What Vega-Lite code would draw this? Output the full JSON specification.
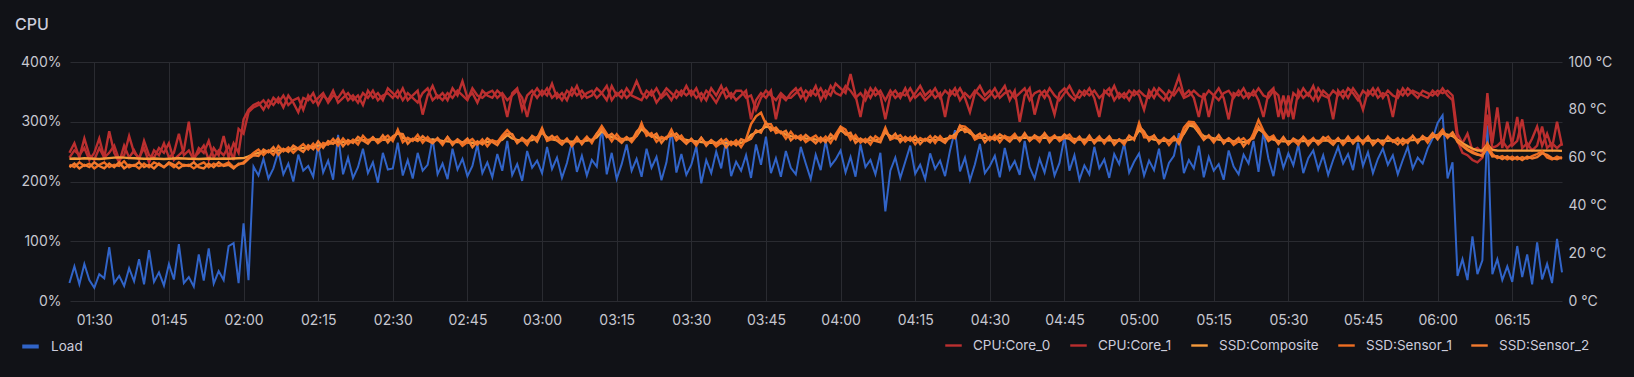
{
"$schema": "https://vega.github.io/schema/vega-lite/v6.json",
"width": 1492, "height": 239,
"autosize": {"type": "none"},
"padding": {"left": 70, "top": 62, "right": 72, "bottom": 76},
"background": "#111217",
"title": {"text": "CPU", "anchor": "start", "dx": -5, "offset": 22, "fontSize": 16, "fontWeight": 500, "font": "Inter", "color": "#CCCCDC"},
"data": {"values": [
{"t":"2024-01-01T01:25","L":30,"a":62,"b":60,"c":59.5,"s":57,"u":56},
{"t":"2024-01-01T01:26","L":58,"a":66,"b":63,"c":59.6,"s":56,"u":57.5},
{"t":"2024-01-01T01:27","L":28,"a":60,"b":61,"c":59.5,"s":58,"u":55.5},
{"t":"2024-01-01T01:28","L":62,"a":68,"b":64,"c":59.7,"s":56.5,"u":57},
{"t":"2024-01-01T01:29","L":35,"a":61,"b":59,"c":59.6,"s":57.5,"u":56},
{"t":"2024-01-01T01:30","L":22,"a":59,"b":62,"c":59.5,"s":55.5,"u":58},
{"t":"2024-01-01T01:31","L":45,"a":64,"b":68,"c":59.4,"s":57,"u":56.5},
{"t":"2024-01-01T01:32","L":38,"a":60,"b":60,"c":59.6,"s":58,"u":55.5},
{"t":"2024-01-01T01:33","L":90,"a":71,"b":62,"c":59.8,"s":56,"u":57.5},
{"t":"2024-01-01T01:34","L":30,"a":62,"b":65,"c":60.0,"s":57,"u":56},
{"t":"2024-01-01T01:35","L":42,"a":58,"b":59,"c":60.1,"s":56.5,"u":58},
{"t":"2024-01-01T01:36","L":25,"a":65,"b":61,"c":60.0,"s":58.5,"u":55.5},
{"t":"2024-01-01T01:37","L":55,"a":60,"b":69,"c":59.8,"s":56,"u":57},
{"t":"2024-01-01T01:38","L":33,"a":63,"b":62,"c":59.7,"s":57,"u":56.5},
{"t":"2024-01-01T01:39","L":70,"a":59,"b":60,"c":59.6,"s":55.5,"u":58},
{"t":"2024-01-01T01:40","L":28,"a":67,"b":64,"c":59.5,"s":57.5,"u":56},
{"t":"2024-01-01T01:41","L":85,"a":61,"b":58,"c":59.5,"s":56,"u":57},
{"t":"2024-01-01T01:42","L":32,"a":60,"b":63,"c":59.6,"s":58,"u":55.5},
{"t":"2024-01-01T01:43","L":48,"a":64,"b":61,"c":59.5,"s":57,"u":57.5},
{"t":"2024-01-01T01:44","L":26,"a":62,"b":66,"c":59.4,"s":56,"u":56},
{"t":"2024-01-01T01:45","L":62,"a":66,"b":60,"c":59.5,"s":57.5,"u":58},
{"t":"2024-01-01T01:46","L":36,"a":59,"b":62,"c":59.6,"s":56,"u":57},
{"t":"2024-01-01T01:47","L":95,"a":61,"b":70,"c":59.7,"s":58,"u":55.5},
{"t":"2024-01-01T01:48","L":30,"a":63,"b":61,"c":59.6,"s":56.5,"u":57},
{"t":"2024-01-01T01:49","L":40,"a":75,"b":63,"c":59.5,"s":57,"u":56.5},
{"t":"2024-01-01T01:50","L":24,"a":60,"b":59,"c":59.5,"s":55.5,"u":58},
{"t":"2024-01-01T01:51","L":78,"a":62,"b":64,"c":59.4,"s":57,"u":56},
{"t":"2024-01-01T01:52","L":34,"a":65,"b":62,"c":59.5,"s":58,"u":55.5},
{"t":"2024-01-01T01:53","L":88,"a":59,"b":67,"c":59.6,"s":56,"u":57.5},
{"t":"2024-01-01T01:54","L":29,"a":64,"b":60,"c":59.5,"s":57.5,"u":56},
{"t":"2024-01-01T01:55","L":50,"a":61,"b":63,"c":59.5,"s":56.5,"u":58},
{"t":"2024-01-01T01:56","L":35,"a":69,"b":61,"c":59.6,"s":57,"u":56.5},
{"t":"2024-01-01T01:57","L":92,"a":60,"b":65,"c":59.5,"s":58,"u":57},
{"t":"2024-01-01T01:58","L":97,"a":66,"b":59,"c":59.6,"s":56,"u":55.5},
{"t":"2024-01-01T01:59","L":30,"a":62,"b":72,"c":59.7,"s":57,"u":57.5},
{"t":"2024-01-01T02:00","L":130,"a":76,"b":70,"c":59.8,"s":58,"u":57.5},
{"t":"2024-01-01T02:01","L":35,"a":80,"b":79,"c":60.5,"s":60,"u":59.5},
{"t":"2024-01-01T02:02","L":225,"a":82,"b":81,"c":61.5,"s":62,"u":61},
{"t":"2024-01-01T02:03","L":210,"a":83,"b":82,"c":62.0,"s":63.4,"u":60.7},
{"t":"2024-01-01T02:04","L":238,"a":80,"b":84,"c":62.3,"s":61.1,"u":63.4},
{"t":"2024-01-01T02:05","L":205,"a":84,"b":81,"c":62.5,"s":63.0,"u":62.2},
{"t":"2024-01-01T02:06","L":222,"a":82,"b":85,"c":62.8,"s":61.1,"u":64.4},
{"t":"2024-01-01T02:07","L":250,"a":85,"b":83,"c":63.0,"s":64.8,"u":61.2},
{"t":"2024-01-01T02:08","L":212,"a":81,"b":86,"c":63.2,"s":62.6,"u":63.7},
{"t":"2024-01-01T02:09","L":230,"a":86,"b":82,"c":63.3,"s":64.3,"u":62.4},
{"t":"2024-01-01T02:10","L":200,"a":83,"b":84,"c":63.5,"s":62.0,"u":65.0},
{"t":"2024-01-01T02:11","L":245,"a":79,"b":85,"c":63.8,"s":64.0,"u":63.7},
{"t":"2024-01-01T02:12","L":218,"a":85,"b":80,"c":64.0,"s":65.6,"u":62.4},
{"t":"2024-01-01T02:13","L":226,"a":84,"b":86,"c":64.3,"s":63.4,"u":65.2},
{"t":"2024-01-01T02:14","L":208,"a":87,"b":83,"c":64.6,"s":65.8,"u":63.5},
{"t":"2024-01-01T02:15","L":262,"a":82,"b":85,"c":65.0,"s":63.2,"u":66.8},
{"t":"2024-01-01T02:16","L":215,"a":86,"b":87,"c":65.4,"s":66.1,"u":64.1},
{"t":"2024-01-01T02:17","L":235,"a":84,"b":83,"c":65.8,"s":65.4,"u":66.9},
{"t":"2024-01-01T02:18","L":203,"a":88,"b":86,"c":66.1,"s":67.8,"u":65.8},
{"t":"2024-01-01T02:19","L":278,"a":83,"b":85,"c":66.4,"s":65.1,"u":68.0},
{"t":"2024-01-01T02:20","L":212,"a":85,"b":88,"c":66.6,"s":68.0,"u":64.8},
{"t":"2024-01-01T02:21","L":240,"a":87,"b":84,"c":66.8,"s":65.6,"u":67.3},
{"t":"2024-01-01T02:22","L":206,"a":84,"b":86,"c":67.0,"s":67.5,"u":66.1},
{"t":"2024-01-01T02:23","L":224,"a":86,"b":83,"c":67.2,"s":65.5,"u":68.7},
{"t":"2024-01-01T02:24","L":255,"a":82,"b":87,"c":67.3,"s":69.1,"u":67.2},
{"t":"2024-01-01T02:25","L":214,"a":88,"b":85,"c":67.4,"s":66.8,"u":65.8},
{"t":"2024-01-01T02:26","L":232,"a":85,"b":88,"c":67.5,"s":68.5,"u":68.4},
{"t":"2024-01-01T02:27","L":198,"a":87,"b":84,"c":67.6,"s":66.1,"u":66.5},
{"t":"2024-01-01T02:28","L":248,"a":84,"b":86,"c":67.5,"s":67.7,"u":69.3},
{"t":"2024-01-01T02:29","L":220,"a":89,"b":87,"c":67.6,"s":69.2,"u":66.3},
{"t":"2024-01-01T02:30","L":222,"a":87,"b":85,"c":67.8,"s":66.9,"u":68.9},
{"t":"2024-01-01T02:31","L":265,"a":85,"b":88,"c":70.5,"s":71.7,"u":70.2},
{"t":"2024-01-01T02:32","L":210,"a":89,"b":84,"c":68.2,"s":66.4,"u":69.8},
{"t":"2024-01-01T02:33","L":236,"a":84,"b":87,"c":67.6,"s":68.3,"u":65.8},
{"t":"2024-01-01T02:34","L":205,"a":86,"b":85,"c":67.4,"s":67.0,"u":67.9},
{"t":"2024-01-01T02:35","L":248,"a":88,"b":83,"c":67.8,"s":69.5,"u":66.9},
{"t":"2024-01-01T02:36","L":218,"a":78,"b":87,"c":67.5,"s":66.2,"u":69.0},
{"t":"2024-01-01T02:37","L":228,"a":86,"b":89,"c":67.2,"s":68.6,"u":67.1},
{"t":"2024-01-01T02:38","L":272,"a":90,"b":84,"c":67.6,"s":66.4,"u":66.0},
{"t":"2024-01-01T02:39","L":212,"a":85,"b":86,"c":67.3,"s":67.8,"u":68.2},
{"t":"2024-01-01T02:40","L":230,"a":87,"b":84,"c":67.0,"s":65.3,"u":65.9},
{"t":"2024-01-01T02:41","L":204,"a":84,"b":87,"c":66.8,"s":68.6,"u":68.6},
{"t":"2024-01-01T02:42","L":255,"a":89,"b":85,"c":66.6,"s":66.0,"u":65.3},
{"t":"2024-01-01T02:43","L":220,"a":86,"b":88,"c":66.5,"s":67.5,"u":67.6},
{"t":"2024-01-01T02:44","L":238,"a":92,"b":86,"c":66.4,"s":64.9,"u":66.1},
{"t":"2024-01-01T02:45","L":209,"a":85,"b":84,"c":66.3,"s":66.5,"u":67.9},
{"t":"2024-01-01T02:46","L":226,"a":87,"b":89,"c":66.2,"s":67.8,"u":64.4},
{"t":"2024-01-01T02:47","L":262,"a":83,"b":86,"c":66.3,"s":65.4,"u":66.8},
{"t":"2024-01-01T02:48","L":214,"a":88,"b":85,"c":66.4,"s":67.6,"u":65.5},
{"t":"2024-01-01T02:49","L":232,"a":86,"b":87,"c":66.5,"s":64.7,"u":68.0},
{"t":"2024-01-01T02:50","L":207,"a":85,"b":88,"c":66.6,"s":67.3,"u":66.5},
{"t":"2024-01-01T02:51","L":246,"a":88,"b":85,"c":66.8,"s":66.4,"u":65.2},
{"t":"2024-01-01T02:52","L":218,"a":86,"b":87,"c":67.5,"s":69.2,"u":68.4},
{"t":"2024-01-01T02:53","L":268,"a":77,"b":84,"c":69.5,"s":71.5,"u":70.0},
{"t":"2024-01-01T02:54","L":211,"a":87,"b":86,"c":68.0,"s":69.4,"u":69.8},
{"t":"2024-01-01T02:55","L":229,"a":89,"b":88,"c":67.4,"s":66.2,"u":66.1},
{"t":"2024-01-01T02:56","L":201,"a":80,"b":85,"c":67.2,"s":67.7,"u":68.3},
{"t":"2024-01-01T02:57","L":251,"a":86,"b":77,"c":67.0,"s":65.3,"u":66.7},
{"t":"2024-01-01T02:58","L":223,"a":88,"b":86,"c":67.3,"s":69.1,"u":68.9},
{"t":"2024-01-01T02:59","L":235,"a":85,"b":89,"c":68.5,"s":67.9,"u":66.7},
{"t":"2024-01-01T03:00","L":214,"a":88,"b":86,"c":70.5,"s":72.4,"u":71.0},
{"t":"2024-01-01T03:01","L":258,"a":86,"b":89,"c":68.5,"s":67.0,"u":67.6},
{"t":"2024-01-01T03:02","L":221,"a":91,"b":85,"c":67.6,"s":67.8,"u":69.1},
{"t":"2024-01-01T03:03","L":240,"a":85,"b":87,"c":67.2,"s":68.8,"u":67.1},
{"t":"2024-01-01T03:04","L":206,"a":87,"b":84,"c":67.0,"s":66.1,"u":65.4},
{"t":"2024-01-01T03:05","L":231,"a":84,"b":88,"c":66.8,"s":68.0,"u":67.7},
{"t":"2024-01-01T03:06","L":266,"a":89,"b":86,"c":66.7,"s":64.9,"u":65.6},
{"t":"2024-01-01T03:07","L":216,"a":86,"b":90,"c":66.8,"s":67.5,"u":68.6},
{"t":"2024-01-01T03:08","L":243,"a":88,"b":85,"c":66.9,"s":66.5,"u":65.6},
{"t":"2024-01-01T03:09","L":210,"a":85,"b":87,"c":67.1,"s":68.8,"u":68.2},
{"t":"2024-01-01T03:10","L":236,"a":86,"b":88,"c":67.4,"s":66.1,"u":67.1},
{"t":"2024-01-01T03:11","L":225,"a":89,"b":85,"c":68.5,"s":69.9,"u":70.1},
{"t":"2024-01-01T03:12","L":292,"a":87,"b":87,"c":71.0,"s":73.2,"u":72.0},
{"t":"2024-01-01T03:13","L":212,"a":84,"b":90,"c":69.5,"s":70.0,"u":68.6},
{"t":"2024-01-01T03:14","L":248,"a":90,"b":84,"c":68.5,"s":66.8,"u":70.0},
{"t":"2024-01-01T03:15","L":204,"a":86,"b":87,"c":68.0,"s":69.8,"u":67.9},
{"t":"2024-01-01T03:16","L":229,"a":88,"b":85,"c":67.8,"s":67.2,"u":66.2},
{"t":"2024-01-01T03:17","L":262,"a":85,"b":89,"c":67.6,"s":68.6,"u":68.5},
{"t":"2024-01-01T03:18","L":218,"a":87,"b":86,"c":68.0,"s":66.5,"u":66.9},
{"t":"2024-01-01T03:19","L":238,"a":92,"b":85,"c":69.0,"s":69.2,"u":70.8},
{"t":"2024-01-01T03:20","L":208,"a":87,"b":84,"c":72.0,"s":74.5,"u":73.0},
{"t":"2024-01-01T03:21","L":255,"a":85,"b":88,"c":70.0,"s":69.1,"u":71.1},
{"t":"2024-01-01T03:22","L":223,"a":88,"b":86,"c":69.0,"s":70.2,"u":68.7},
{"t":"2024-01-01T03:23","L":241,"a":83,"b":89,"c":68.4,"s":66.6,"u":70.0},
{"t":"2024-01-01T03:24","L":202,"a":86,"b":85,"c":68.0,"s":68.7,"u":66.2},
{"t":"2024-01-01T03:25","L":232,"a":89,"b":87,"c":68.2,"s":67.8,"u":68.7},
{"t":"2024-01-01T03:26","L":286,"a":87,"b":84,"c":70.0,"s":71.7,"u":69.1},
{"t":"2024-01-01T03:27","L":215,"a":85,"b":88,"c":68.6,"s":67.3,"u":70.1},
{"t":"2024-01-01T03:28","L":246,"a":88,"b":86,"c":67.8,"s":69.2,"u":67.7},
{"t":"2024-01-01T03:29","L":211,"a":86,"b":90,"c":67.4,"s":66.2,"u":65.8},
{"t":"2024-01-01T03:30","L":228,"a":88,"b":86,"c":67.0,"s":67.5,"u":67.9},
{"t":"2024-01-01T03:31","L":259,"a":85,"b":89,"c":66.8,"s":65.1,"u":65.7},
{"t":"2024-01-01T03:32","L":197,"a":87,"b":84,"c":66.5,"s":68.3,"u":68.3},
{"t":"2024-01-01T03:33","L":236,"a":84,"b":88,"c":66.3,"s":65.7,"u":65.0},
{"t":"2024-01-01T03:34","L":214,"a":89,"b":86,"c":66.2,"s":67.2,"u":67.3},
{"t":"2024-01-01T03:35","L":250,"a":86,"b":83,"c":66.1,"s":64.6,"u":65.8},
{"t":"2024-01-01T03:36","L":222,"a":90,"b":87,"c":66.0,"s":66.2,"u":67.6},
{"t":"2024-01-01T03:37","L":270,"a":85,"b":89,"c":66.1,"s":67.7,"u":64.3},
{"t":"2024-01-01T03:38","L":209,"a":87,"b":85,"c":66.2,"s":65.3,"u":66.7},
{"t":"2024-01-01T03:39","L":233,"a":84,"b":88,"c":66.0,"s":67.2,"u":65.1},
{"t":"2024-01-01T03:40","L":218,"a":86,"b":88,"c":66.2,"s":64.4,"u":67.7},
{"t":"2024-01-01T03:41","L":244,"a":88,"b":85,"c":67.0,"s":67.7,"u":66.9},
{"t":"2024-01-01T03:42","L":206,"a":76,"b":86,"c":69.5,"s":74.0,"u":67.9},
{"t":"2024-01-01T03:43","L":262,"a":84,"b":80,"c":70.5,"s":77.3,"u":71.4},
{"t":"2024-01-01T03:44","L":228,"a":87,"b":85,"c":71.5,"s":78.8,"u":70.4},
{"t":"2024-01-01T03:45","L":275,"a":85,"b":88,"c":73.0,"s":74.0,"u":74.8},
{"t":"2024-01-01T03:46","L":214,"a":88,"b":86,"c":72.6,"s":74.0,"u":71.3},
{"t":"2024-01-01T03:47","L":239,"a":76,"b":84,"c":71.5,"s":70.3,"u":72.6},
{"t":"2024-01-01T03:48","L":208,"a":86,"b":87,"c":70.5,"s":71.0,"u":70.2},
{"t":"2024-01-01T03:49","L":251,"a":84,"b":85,"c":69.6,"s":67.9,"u":71.2},
{"t":"2024-01-01T03:50","L":223,"a":87,"b":85,"c":69.0,"s":70.8,"u":67.2},
{"t":"2024-01-01T03:51","L":212,"a":89,"b":87,"c":68.6,"s":68.0,"u":69.1},
{"t":"2024-01-01T03:52","L":258,"a":85,"b":89,"c":68.3,"s":69.3,"u":67.4},
{"t":"2024-01-01T03:53","L":230,"a":88,"b":84,"c":68.0,"s":66.5,"u":69.5},
{"t":"2024-01-01T03:54","L":204,"a":86,"b":88,"c":67.8,"s":68.0,"u":67.7},
{"t":"2024-01-01T03:55","L":245,"a":90,"b":86,"c":67.6,"s":69.2,"u":66.0},
{"t":"2024-01-01T03:56","L":219,"a":84,"b":89,"c":67.5,"s":66.6,"u":68.4},
{"t":"2024-01-01T03:57","L":268,"a":88,"b":85,"c":67.6,"s":68.8,"u":66.5},
{"t":"2024-01-01T03:58","L":226,"a":86,"b":90,"c":68.0,"s":66.2,"u":69.8},
{"t":"2024-01-01T03:59","L":237,"a":91,"b":87,"c":69.0,"s":69.7,"u":67.7},
{"t":"2024-01-01T04:00","L":252,"a":89,"b":86,"c":71.5,"s":73.0,"u":72.6},
{"t":"2024-01-01T04:01","L":215,"a":87,"b":90,"c":70.0,"s":71.7,"u":69.7},
{"t":"2024-01-01T04:02","L":241,"a":95,"b":88,"c":68.8,"s":67.5,"u":70.4},
{"t":"2024-01-01T04:03","L":208,"a":86,"b":85,"c":68.0,"s":69.4,"u":66.2},
{"t":"2024-01-01T04:04","L":262,"a":77,"b":87,"c":67.5,"s":66.3,"u":68.0},
{"t":"2024-01-01T04:05","L":224,"a":88,"b":84,"c":67.3,"s":67.8,"u":66.4},
{"t":"2024-01-01T04:06","L":236,"a":85,"b":89,"c":67.2,"s":65.5,"u":68.7},
{"t":"2024-01-01T04:07","L":212,"a":89,"b":86,"c":67.1,"s":68.9,"u":67.0},
{"t":"2024-01-01T04:08","L":248,"a":86,"b":88,"c":68.0,"s":67.4,"u":66.4},
{"t":"2024-01-01T04:09","L":150,"a":76,"b":84,"c":70.5,"s":72.5,"u":71.4},
{"t":"2024-01-01T04:10","L":218,"a":86,"b":88,"c":69.0,"s":67.5,"u":67.9},
{"t":"2024-01-01T04:11","L":240,"a":88,"b":85,"c":68.2,"s":68.4,"u":70.0},
{"t":"2024-01-01T04:12","L":206,"a":85,"b":87,"c":67.8,"s":69.4,"u":66.5},
{"t":"2024-01-01T04:13","L":233,"a":89,"b":86,"c":67.6,"s":66.7,"u":68.7},
{"t":"2024-01-01T04:14","L":260,"a":84,"b":89,"c":67.4,"s":68.6,"u":67.1},
{"t":"2024-01-01T04:15","L":213,"a":87,"b":85,"c":67.4,"s":65.6,"u":69.0},
{"t":"2024-01-01T04:16","L":228,"a":90,"b":87,"c":67.5,"s":68.2,"u":65.7},
{"t":"2024-01-01T04:17","L":204,"a":86,"b":84,"c":67.4,"s":67.0,"u":67.9},
{"t":"2024-01-01T04:18","L":247,"a":88,"b":86,"c":67.3,"s":69.0,"u":66.4},
{"t":"2024-01-01T04:19","L":221,"a":85,"b":89,"c":67.4,"s":66.1,"u":68.9},
{"t":"2024-01-01T04:20","L":235,"a":87,"b":85,"c":67.6,"s":69.0,"u":67.5},
{"t":"2024-01-01T04:21","L":209,"a":77,"b":88,"c":67.8,"s":66.6,"u":66.2},
{"t":"2024-01-01T04:22","L":252,"a":88,"b":86,"c":68.2,"s":68.7,"u":69.1},
{"t":"2024-01-01T04:23","L":286,"a":86,"b":89,"c":69.8,"s":68.1,"u":68.7},
{"t":"2024-01-01T04:24","L":217,"a":89,"b":84,"c":71.5,"s":73.3,"u":73.3},
{"t":"2024-01-01T04:25","L":240,"a":85,"b":87,"c":72.0,"s":73.0,"u":70.7},
{"t":"2024-01-01T04:26","L":202,"a":79,"b":85,"c":70.2,"s":71.2,"u":71.3},
{"t":"2024-01-01T04:27","L":229,"a":87,"b":88,"c":69.0,"s":67.5,"u":68.7},
{"t":"2024-01-01T04:28","L":263,"a":90,"b":86,"c":68.4,"s":68.6,"u":70.0},
{"t":"2024-01-01T04:29","L":214,"a":86,"b":84,"c":68.2,"s":69.8,"u":66.4},
{"t":"2024-01-01T04:30","L":226,"a":88,"b":86,"c":68.2,"s":67.3,"u":68.7},
{"t":"2024-01-01T04:31","L":243,"a":85,"b":89,"c":68.3,"s":69.5,"u":67.4},
{"t":"2024-01-01T04:32","L":207,"a":87,"b":85,"c":68.2,"s":66.4,"u":69.7},
{"t":"2024-01-01T04:33","L":256,"a":90,"b":87,"c":68.4,"s":69.1,"u":68.3},
{"t":"2024-01-01T04:34","L":220,"a":84,"b":88,"c":68.3,"s":67.9,"u":66.7},
{"t":"2024-01-01T04:35","L":234,"a":88,"b":85,"c":68.2,"s":69.9,"u":69.1},
{"t":"2024-01-01T04:36","L":211,"a":75,"b":87,"c":68.3,"s":67.0,"u":67.2},
{"t":"2024-01-01T04:37","L":268,"a":86,"b":89,"c":68.4,"s":69.8,"u":70.2},
{"t":"2024-01-01T04:38","L":224,"a":89,"b":84,"c":68.3,"s":67.1,"u":67.0},
{"t":"2024-01-01T04:39","L":205,"a":78,"b":87,"c":68.2,"s":68.7,"u":69.3},
{"t":"2024-01-01T04:40","L":238,"a":86,"b":88,"c":68.3,"s":66.6,"u":68.0},
{"t":"2024-01-01T04:41","L":215,"a":88,"b":85,"c":68.4,"s":70.2,"u":70.0},
{"t":"2024-01-01T04:42","L":250,"a":85,"b":89,"c":68.2,"s":67.6,"u":66.4},
{"t":"2024-01-01T04:43","L":210,"a":78,"b":86,"c":68.3,"s":69.3,"u":68.8},
{"t":"2024-01-01T04:44","L":231,"a":87,"b":84,"c":68.4,"s":66.9,"u":67.5},
{"t":"2024-01-01T04:45","L":275,"a":89,"b":87,"c":68.2,"s":68.4,"u":69.7},
{"t":"2024-01-01T04:46","L":218,"a":86,"b":90,"c":68.0,"s":69.6,"u":67.9},
{"t":"2024-01-01T04:47","L":244,"a":84,"b":86,"c":67.8,"s":66.9,"u":66.2},
{"t":"2024-01-01T04:48","L":203,"a":88,"b":85,"c":67.6,"s":68.8,"u":68.5},
{"t":"2024-01-01T04:49","L":227,"a":86,"b":88,"c":67.5,"s":65.7,"u":66.4},
{"t":"2024-01-01T04:50","L":212,"a":89,"b":86,"c":67.4,"s":68.1,"u":69.2},
{"t":"2024-01-01T04:51","L":258,"a":85,"b":88,"c":67.3,"s":66.9,"u":66.0},
{"t":"2024-01-01T04:52","L":222,"a":77,"b":85,"c":67.2,"s":68.9,"u":68.3},
{"t":"2024-01-01T04:53","L":237,"a":88,"b":87,"c":67.2,"s":65.9,"u":66.9},
{"t":"2024-01-01T04:54","L":206,"a":86,"b":89,"c":67.3,"s":68.7,"u":68.9},
{"t":"2024-01-01T04:55","L":246,"a":90,"b":84,"c":67.2,"s":66.0,"u":65.4},
{"t":"2024-01-01T04:56","L":229,"a":85,"b":87,"c":67.1,"s":67.6,"u":67.6},
{"t":"2024-01-01T04:57","L":264,"a":87,"b":85,"c":67.2,"s":65.5,"u":66.3},
{"t":"2024-01-01T04:58","L":215,"a":84,"b":88,"c":67.4,"s":69.2,"u":68.9},
{"t":"2024-01-01T04:59","L":233,"a":88,"b":86,"c":68.0,"s":67.4,"u":67.9},
{"t":"2024-01-01T05:00","L":247,"a":86,"b":88,"c":71.5,"s":74.5,"u":73.0},
{"t":"2024-01-01T05:01","L":210,"a":80,"b":86,"c":70.0,"s":68.5,"u":70.9},
{"t":"2024-01-01T05:02","L":235,"a":88,"b":85,"c":68.2,"s":68.4,"u":67.1},
{"t":"2024-01-01T05:03","L":219,"a":85,"b":89,"c":67.5,"s":69.1,"u":69.3},
{"t":"2024-01-01T05:04","L":255,"a":89,"b":86,"c":67.2,"s":66.3,"u":65.9},
{"t":"2024-01-01T05:05","L":204,"a":87,"b":84,"c":67.0,"s":68.2,"u":68.1},
{"t":"2024-01-01T05:06","L":231,"a":84,"b":88,"c":67.1,"s":65.3,"u":66.8},
{"t":"2024-01-01T05:07","L":243,"a":88,"b":86,"c":67.2,"s":67.9,"u":68.8},
{"t":"2024-01-01T05:08","L":281,"a":94,"b":89,"c":67.6,"s":67.2,"u":65.8},
{"t":"2024-01-01T05:09","L":214,"a":86,"b":85,"c":70.0,"s":72.5,"u":70.5},
{"t":"2024-01-01T05:10","L":236,"a":88,"b":86,"c":73.5,"s":75.0,"u":74.0},
{"t":"2024-01-01T05:11","L":222,"a":85,"b":88,"c":73.0,"s":74.8,"u":74.0},
{"t":"2024-01-01T05:12","L":260,"a":77,"b":86,"c":70.5,"s":71.9,"u":70.4},
{"t":"2024-01-01T05:13","L":207,"a":87,"b":85,"c":69.0,"s":67.8,"u":67.4},
{"t":"2024-01-01T05:14","L":241,"a":77,"b":88,"c":68.5,"s":69.0,"u":69.4},
{"t":"2024-01-01T05:15","L":218,"a":86,"b":86,"c":68.0,"s":66.3,"u":66.9},
{"t":"2024-01-01T05:16","L":229,"a":89,"b":84,"c":67.5,"s":69.3,"u":69.3},
{"t":"2024-01-01T05:17","L":203,"a":85,"b":87,"c":67.2,"s":66.6,"u":65.9},
{"t":"2024-01-01T05:18","L":252,"a":76,"b":88,"c":67.0,"s":68.0,"u":68.1},
{"t":"2024-01-01T05:19","L":225,"a":87,"b":85,"c":66.8,"s":65.3,"u":66.5},
{"t":"2024-01-01T05:20","L":212,"a":86,"b":88,"c":66.6,"s":66.8,"u":68.2},
{"t":"2024-01-01T05:21","L":245,"a":89,"b":85,"c":66.5,"s":68.1,"u":64.7},
{"t":"2024-01-01T05:22","L":230,"a":85,"b":87,"c":66.8,"s":65.9,"u":67.3},
{"t":"2024-01-01T05:23","L":268,"a":88,"b":86,"c":69.0,"s":70.2,"u":68.1},
{"t":"2024-01-01T05:24","L":216,"a":84,"b":89,"c":72.0,"s":75.7,"u":73.0},
{"t":"2024-01-01T05:25","L":283,"a":77,"b":86,"c":70.5,"s":71.2,"u":70.4},
{"t":"2024-01-01T05:26","L":238,"a":87,"b":85,"c":68.5,"s":68.1,"u":66.9},
{"t":"2024-01-01T05:27","L":209,"a":89,"b":88,"c":67.5,"s":69.2,"u":68.4},
{"t":"2024-01-01T05:28","L":256,"a":77,"b":86,"c":67.0,"s":65.7,"u":65.9},
{"t":"2024-01-01T05:29","L":223,"a":86,"b":76,"c":66.8,"s":68.2,"u":68.6},
{"t":"2024-01-01T05:30","L":247,"a":77,"b":86,"c":66.8,"s":65.6,"u":65.5},
{"t":"2024-01-01T05:31","L":227,"a":87,"b":76,"c":66.9,"s":67.4,"u":68.0},
{"t":"2024-01-01T05:32","L":262,"a":85,"b":88,"c":67.0,"s":65.3,"u":66.7},
{"t":"2024-01-01T05:33","L":214,"a":89,"b":85,"c":66.9,"s":68.7,"u":68.5},
{"t":"2024-01-01T05:34","L":239,"a":86,"b":87,"c":67.0,"s":66.4,"u":65.2},
{"t":"2024-01-01T05:35","L":252,"a":90,"b":84,"c":67.2,"s":68.2,"u":67.7},
{"t":"2024-01-01T05:36","L":220,"a":84,"b":89,"c":67.0,"s":65.5,"u":66.1},
{"t":"2024-01-01T05:37","L":244,"a":88,"b":86,"c":67.1,"s":67.3,"u":68.6},
{"t":"2024-01-01T05:38","L":211,"a":86,"b":85,"c":67.2,"s":68.8,"u":67.1},
{"t":"2024-01-01T05:39","L":236,"a":76,"b":88,"c":67.0,"s":66.1,"u":65.4},
{"t":"2024-01-01T05:40","L":258,"a":88,"b":86,"c":67.0,"s":68.2,"u":67.9},
{"t":"2024-01-01T05:41","L":230,"a":85,"b":88,"c":67.1,"s":65.3,"u":66.0},
{"t":"2024-01-01T05:42","L":246,"a":89,"b":85,"c":67.0,"s":67.7,"u":68.8},
{"t":"2024-01-01T05:43","L":219,"a":87,"b":89,"c":67.2,"s":66.8,"u":65.9},
{"t":"2024-01-01T05:44","L":265,"a":84,"b":86,"c":67.1,"s":68.8,"u":68.2},
{"t":"2024-01-01T05:45","L":226,"a":88,"b":80,"c":67.0,"s":65.7,"u":66.7},
{"t":"2024-01-01T05:46","L":249,"a":86,"b":88,"c":67.2,"s":68.6,"u":68.8},
{"t":"2024-01-01T05:47","L":214,"a":89,"b":86,"c":67.1,"s":65.9,"u":65.3},
{"t":"2024-01-01T05:48","L":238,"a":85,"b":89,"c":67.0,"s":67.5,"u":67.5},
{"t":"2024-01-01T05:49","L":255,"a":87,"b":85,"c":67.1,"s":65.4,"u":66.2},
{"t":"2024-01-01T05:50","L":228,"a":86,"b":88,"c":67.0,"s":68.8,"u":68.5},
{"t":"2024-01-01T05:51","L":244,"a":77,"b":86,"c":67.2,"s":66.6,"u":67.1},
{"t":"2024-01-01T05:52","L":212,"a":88,"b":85,"c":67.1,"s":68.1,"u":65.5},
{"t":"2024-01-01T05:53","L":236,"a":86,"b":89,"c":67.0,"s":65.5,"u":67.9},
{"t":"2024-01-01T05:54","L":258,"a":89,"b":86,"c":67.2,"s":67.4,"u":66.1},
{"t":"2024-01-01T05:55","L":222,"a":87,"b":88,"c":67.3,"s":68.9,"u":69.1},
{"t":"2024-01-01T05:56","L":240,"a":85,"b":87,"c":67.5,"s":66.6,"u":66.2},
{"t":"2024-01-01T05:57","L":230,"a":88,"b":86,"c":67.8,"s":69.0,"u":68.9},
{"t":"2024-01-01T05:58","L":255,"a":87,"b":85,"c":68.0,"s":66.2,"u":67.7},
{"t":"2024-01-01T05:59","L":272,"a":86,"b":88,"c":68.6,"s":69.3,"u":70.2},
{"t":"2024-01-01T06:00","L":298,"a":88,"b":86,"c":69.5,"s":69.1,"u":67.7},
{"t":"2024-01-01T06:01","L":311,"a":87,"b":89,"c":70.0,"s":71.7,"u":70.5},
{"t":"2024-01-01T06:02","L":205,"a":88,"b":86,"c":69.6,"s":68.3,"u":68.7},
{"t":"2024-01-01T06:03","L":232,"a":86,"b":84,"c":69.0,"s":70.4,"u":70.5},
{"t":"2024-01-01T06:04","L":42,"a":70,"b":67,"c":67.5,"s":67,"u":66.5},
{"t":"2024-01-01T06:05","L":70,"a":66,"b":62,"c":66.0,"s":65.2,"u":64.8},
{"t":"2024-01-01T06:06","L":35,"a":70,"b":61,"c":64.8,"s":63.6,"u":63.2},
{"t":"2024-01-01T06:07","L":108,"a":63,"b":59,"c":63.8,"s":62.4,"u":62},
{"t":"2024-01-01T06:08","L":45,"a":64,"b":58,"c":63.0,"s":61.5,"u":61.2},
{"t":"2024-01-01T06:09","L":68,"a":62,"b":60,"c":63.0,"s":60.5,"u":61},
{"t":"2024-01-01T06:10","L":294,"a":87,"b":78,"c":65.5,"s":66,"u":64},
{"t":"2024-01-01T06:11","L":45,"a":66,"b":64,"c":63.2,"s":61.5,"u":60.5},
{"t":"2024-01-01T06:12","L":70,"a":81,"b":65,"c":63.0,"s":59.8,"u":60.6},
{"t":"2024-01-01T06:13","L":35,"a":64,"b":67,"c":62.9,"s":60.6,"u":59.4},
{"t":"2024-01-01T06:14","L":58,"a":75,"b":64,"c":62.9,"s":59.3,"u":60.5},
{"t":"2024-01-01T06:15","L":32,"a":65,"b":66,"c":62.9,"s":60.4,"u":59.2},
{"t":"2024-01-01T06:16","L":92,"a":67,"b":77,"c":62.9,"s":59.2,"u":60.3},
{"t":"2024-01-01T06:17","L":40,"a":76,"b":64,"c":62.9,"s":60.2,"u":59},
{"t":"2024-01-01T06:18","L":78,"a":64,"b":66,"c":62.9,"s":59.5,"u":60.4},
{"t":"2024-01-01T06:19","L":28,"a":68,"b":63,"c":62.9,"s":60.6,"u":59.6},
{"t":"2024-01-01T06:20","L":98,"a":73,"b":65,"c":62.9,"s":61.5,"u":60.2},
{"t":"2024-01-01T06:21","L":36,"a":65,"b":73,"c":62.9,"s":62.6,"u":61.8},
{"t":"2024-01-01T06:22","L":62,"a":70,"b":64,"c":62.9,"s":60,"u":61.2},
{"t":"2024-01-01T06:23","L":30,"a":64,"b":66,"c":62.9,"s":59.2,"u":59.8},
{"t":"2024-01-01T06:24","L":104,"a":75,"b":64,"c":62.9,"s":60.4,"u":59.3},
{"t":"2024-01-01T06:25","L":48,"a":65,"b":66,"c":62.8,"s":59.6,"u":60.2}
]},
"transform": [
{"fold": ["L", "a", "b", "c", "s", "u"], "as": ["key", "value"]}
],
"layer": [
{"transform": [{"filter": "datum.key === 'L'"}],
"mark": {"type": "line", "strokeWidth": 2},
"encoding": {
"x": {"field": "t", "type": "temporal", "title": null,
"scale": {"domain": [{"year": 2024, "month": 1, "date": 1, "hours": 1, "minutes": 25, "seconds": 7}, {"year": 2024, "month": 1, "date": 1, "hours": 6, "minutes": 25, "seconds": 0}]},
"axis": {"format": "%H:%M", "values": [
{"year": 2024, "month": 1, "date": 1, "hours": 1, "minutes": 30},
{"year": 2024, "month": 1, "date": 1, "hours": 1, "minutes": 45},
{"year": 2024, "month": 1, "date": 1, "hours": 2, "minutes": 0},
{"year": 2024, "month": 1, "date": 1, "hours": 2, "minutes": 15},
{"year": 2024, "month": 1, "date": 1, "hours": 2, "minutes": 30},
{"year": 2024, "month": 1, "date": 1, "hours": 2, "minutes": 45},
{"year": 2024, "month": 1, "date": 1, "hours": 3, "minutes": 0},
{"year": 2024, "month": 1, "date": 1, "hours": 3, "minutes": 15},
{"year": 2024, "month": 1, "date": 1, "hours": 3, "minutes": 30},
{"year": 2024, "month": 1, "date": 1, "hours": 3, "minutes": 45},
{"year": 2024, "month": 1, "date": 1, "hours": 4, "minutes": 0},
{"year": 2024, "month": 1, "date": 1, "hours": 4, "minutes": 15},
{"year": 2024, "month": 1, "date": 1, "hours": 4, "minutes": 30},
{"year": 2024, "month": 1, "date": 1, "hours": 4, "minutes": 45},
{"year": 2024, "month": 1, "date": 1, "hours": 5, "minutes": 0},
{"year": 2024, "month": 1, "date": 1, "hours": 5, "minutes": 15},
{"year": 2024, "month": 1, "date": 1, "hours": 5, "minutes": 30},
{"year": 2024, "month": 1, "date": 1, "hours": 5, "minutes": 45},
{"year": 2024, "month": 1, "date": 1, "hours": 6, "minutes": 0},
{"year": 2024, "month": 1, "date": 1, "hours": 6, "minutes": 15}
], "grid": true, "labelPadding": 12}},
"y": {"field": "value", "type": "quantitative", "title": null, "scale": {"domain": [0, 400]},
"axis": {"orient": "left", "values": [0, 100, 200, 300, 400], "labelExpr": "datum.value + '%'", "labelPadding": 9, "grid": true}},
"color": {"field": "key", "type": "nominal", "scale": {"domain": ["L"], "range": ["#3164C8"]},
"legend": {"title": null, "orient": "none", "legendX": -50, "legendY": 274, "labelExpr": "'Load'"}}
}},
{"transform": [{"filter": "datum.key !== 'L'"}],
"mark": {"type": "line"},
"encoding": {
"x": {"field": "t", "type": "temporal", "title": null},
"y": {"field": "value", "type": "quantitative", "title": null, "scale": {"domain": [0, 100]},
"axis": {"orient": "right", "values": [0, 20, 40, 60, 80, 100], "labelExpr": "datum.value + ' °C'", "labelPadding": 6, "grid": false}},
"strokeWidth": {"field": "key", "type": "nominal", "scale": {"domain": ["a", "b", "c", "s", "u"], "range": [2.4, 2.4, 1.8, 2.0, 2.0]}, "legend": null},
"color": {"field": "key", "type": "nominal",
"scale": {"domain": ["a", "b", "c", "s", "u"], "range": ["#BC3030", "#BA2E2E", "#F59A3C", "#EE6E22", "#F27A2E"]},
"legend": {"title": null, "orient": "none", "legendX": 874, "legendY": 274, "columns": 5, "direction": "horizontal",
"labelExpr": "datum.label === 'a' ? 'CPU:Core_0' : datum.label === 'b' ? 'CPU:Core_1' : datum.label === 'c' ? 'SSD:Composite' : datum.label === 's' ? 'SSD:Sensor_1' : 'SSD:Sensor_2'"}}
}}
],
"resolve": {"scale": {"y": "independent", "color": "independent", "strokeWidth": "independent"}},
"config": {
"view": {"stroke": null},
"font": "Inter",
"axis": {"labelFont": "Inter", "labelFontSize": 14, "labelColor": "#C7C7D0", "gridColor": "#2A2B31", "gridWidth": 1, "domain": false, "ticks": false},
"legend": {"labelFont": "Inter", "labelFontSize": 13.5, "labelColor": "#CCCCDC", "symbolType": "stroke", "symbolStrokeWidth": 4, "symbolSize": 272, "labelOffset": 10, "columnPadding": 14, "padding": 0}
}
}
